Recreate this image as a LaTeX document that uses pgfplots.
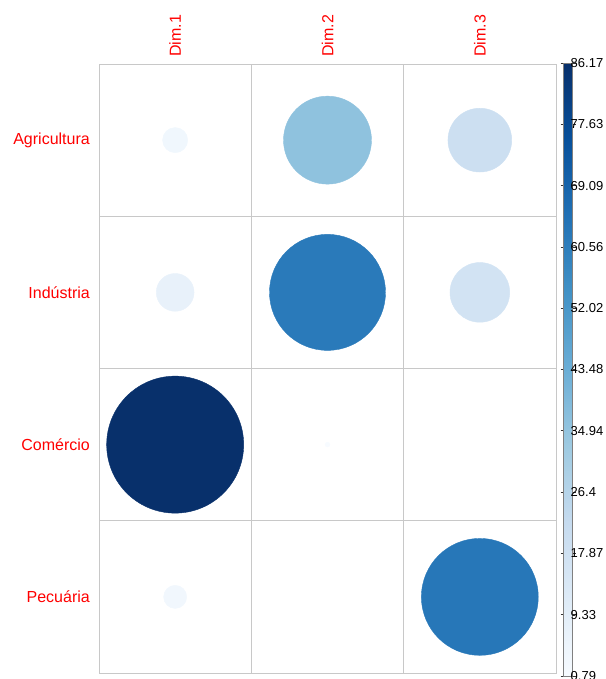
\documentclass[border=0pt]{standalone}
\usepackage{fontspec}
\setmainfont{Liberation Sans}
\usepackage{pgfplots}
\pgfplotsset{compat=1.18}
\usepackage{pgfplotstable}

% contributions (%) of each sector to the first three dimensions
\pgfplotstableread{
x y v
1 4 3.68
2 4 36.0
3 4 19.3
1 3 7.3
2 3 62.0
3 3 17.0
1 2 86.17
2 2 0.9
3 2 0.79
1 1 3.23
2 1 0.79
3 1 62.9
}\contrib

\pgfplotsset{colormap={blues}{
  rgb255=(247,251,255) rgb255=(222,235,247) rgb255=(198,219,239)
  rgb255=(158,202,225) rgb255=(107,174,214) rgb255=(66,146,198)
  rgb255=(33,113,181) rgb255=(8,81,156) rgb255=(8,48,107)}}

\definecolor{gridgray}{RGB}{200,200,200}

\begin{document}
\begin{tikzpicture}
\begin{axis}[
  at={(99pt,-673pt)}, anchor=south west,
  scale only axis, width=457pt, height=609pt,
  xmin=0.5, xmax=3.5, ymin=0.5, ymax=4.5,
  xtick={1,2,3}, xticklabels={Dim.1,Dim.2,Dim.3},
  ytick={1,2,3,4}, yticklabels={Pecuária,Comércio,Indústria,Agricultura},
  xticklabel pos=right,
  major tick length=0pt, minor tick length=0pt,
  tick style={draw=none},
  minor xtick={1.5,2.5}, minor ytick={1.5,2.5,3.5},
  grid=minor,
  minor grid style={draw=gridgray, line width=0.9pt},
  axis line style={draw=gridgray, line width=0.9pt},
  xticklabel style={rotate=90, anchor=west, text=red,
    font=\fontsize{16}{16}\selectfont, inner sep=0pt},
  xticklabel shift=7pt,
  yticklabel style={anchor=east, text=red,
    font=\fontsize{16}{16}\selectfont, inner sep=0pt},
  yticklabel shift=9pt,
  colormap name=blues,
  point meta min=0.79, point meta max=86.17,
  colorbar,
  colorbar style={
    at={(parent axis.north east)}, anchor=north west,
    xshift=-1pt, yshift=1pt,
    width=9pt, height=613pt,
    ytick={0.79,9.33,17.87,26.4,34.94,43.48,52.02,60.56,69.09,77.63,86.17},
    yticklabels={0.79,9.33,17.87,26.4,34.94,43.48,52.02,60.56,69.09,77.63,86.17},
    yticklabel style={font=\fontsize{13}{13}\selectfont, inner sep=0pt, anchor=west},
    yticklabel shift=-5pt,
    tick align=outside, major tick length=3pt,
    ytick style={draw=black!80, line width=0.7pt},
    axis line style={draw=gray, line width=0.7pt},
  },
]
\addplot[scatter, only marks, mark=*, point meta=explicit,
  scatter/use mapped color={draw=mapped color, fill=mapped color},
  visualization depends on={68.5*sqrt((\thisrow{v}-0.79)/85.38) \as \rad},
  scatter/@pre marker code/.append style={/tikz/mark size=\rad pt}]
  table[x=x, y=y, meta=v] {\contrib};
\end{axis}
\pgfresetboundingbox
\useasboundingbox (0,0) rectangle (605pt,-679pt);
\end{tikzpicture}
\end{document}
